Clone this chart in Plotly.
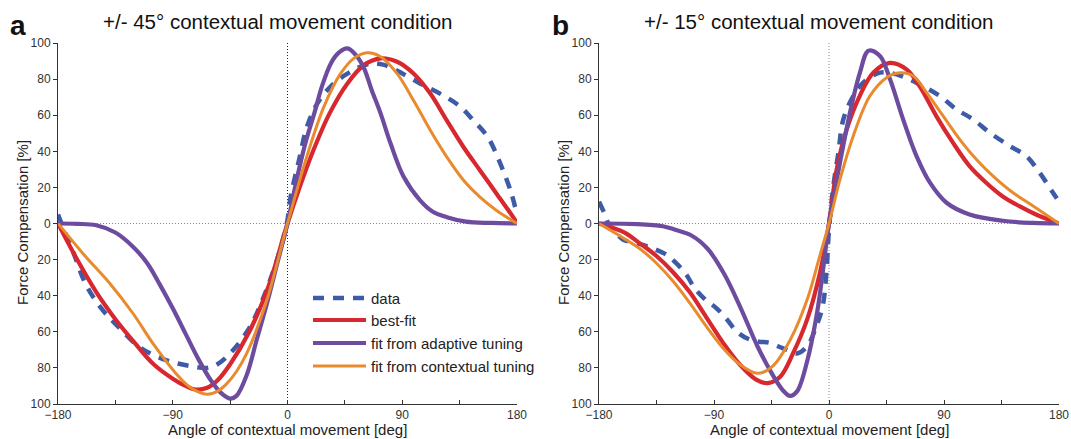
import plotly.graph_objects as go

# ---------------- values ----------------
# Left panel: +/- 45 deg contextual movement condition
L_data_x = [-180, -175, -168, -158, -146, -133, -115, -94, -76, -63, -55, -45, -30, -20, -10, -4, 0, 2.5, 9, 15,
            23, 34, 47, 64, 75, 85, 104, 122, 135, 146, 157, 167, 175, 180]
L_data_y = [5, -4, -16, -34, -47, -57, -69, -76, -79, -80, -78, -72, -58, -43, -24, -10, 2, 15, 35, 53,
            66, 76, 83, 88.5, 88, 85, 77.6, 71, 65, 57, 48, 33, 18, 5]

L_best_x = [-180, -165, -150, -135, -120, -105, -90, -80, -72, -63, -55, -45, -30, -15, 0, 10, 20, 33, 47, 60,
            73, 86, 99, 112, 125, 138, 151, 164, 177, 180]
L_best_y = [0, -20, -38, -53, -66, -78, -86, -90, -92, -91, -87, -78, -60, -35, 0, 21, 40, 61, 77.6, 87.8,
            91.5, 89.6, 83, 72, 57, 42.4, 29.4, 16.5, 3.5, 0]

L_adapt_x = [-180, -165, -150, -135, -121, -110, -100, -90, -80, -70, -60, -52, -45, -40, -32, -24, -16, -8, 0, 5,
             10, 15, 21, 27, 34, 40, 47, 54, 60, 66, 73, 81, 91, 104, 114, 125, 140, 160, 180]
L_adapt_y = [0, -0.2, -1, -5, -13, -22, -34, -47, -61, -75, -87, -94, -97, -95.5, -84, -64, -44, -22, 0, 17,
             33, 47, 61, 76, 88.7, 94.5, 97, 93, 86, 74, 61, 44, 26, 12.8, 6.5, 3.5, 1, 0.3, 0]

L_ctx_x = [-180, -160, -139, -121, -105, -87, -76, -63, -55, -48, -40, -32, -16, 0, 15, 28.5, 41.6, 52, 62.5, 73,
           86, 99, 112, 125, 138, 151, 164, 180]
L_ctx_y = [0, -17, -33.5, -50, -67, -83.5, -91, -94.6, -93, -89, -82, -72, -42, 0, 36.8, 64.6, 83, 91.5, 94.6, 92.4,
           83, 68, 51.7, 36.8, 24, 14.6, 7.2, 0]

# Right panel: +/- 15 deg contextual movement condition
R_data_x = [-180, -176, -172, -167, -161, -153, -145, -137, -128, -121, -112, -105, -97, -88, -80, -72, -63, -55, -47, -40,
            -33, -25, -17, -10, -5, -2, 0, 3.4, 7.3, 11.2, 19, 26.8, 39.9, 52.9, 71, 86.8, 99.8, 112.8, 125.8, 141.5,
            154.5, 165, 175.3, 180]
R_data_y = [12, 6, -1, -5, -9, -10.5, -12, -14, -17, -21, -28, -36, -42, -47, -53, -60, -64, -65.5, -66, -68,
            -70, -72, -68, -57, -46, -27, -3, 20.7, 39, 57.7, 70.6, 78, 83.6, 82.6, 77, 70.6, 63.2, 57.7, 50.3, 42.9,
            37.3, 28, 17, 12]

R_best_x = [-180, -160, -148, -135, -122, -109, -96, -83, -70, -57, -48, -38, -28, -17, -7, 0, 6, 13.8, 24, 34.6,
            47.7, 60.7, 71, 84, 97, 110, 123, 136, 149, 162, 180]
R_best_y = [0, -5, -11, -18, -27, -38, -52, -66, -78, -86.5, -88.4, -84.7, -71.7, -53, -27, 0, 30, 52, 70.6, 83.5,
            89, 85.4, 76, 59.5, 44.8, 31.8, 22.6, 15, 9.6, 5, 0]

R_adapt_x = [-180, -150, -130, -121, -108, -95, -82, -69, -56, -44, -36, -30.5, -25, -17, -9, -4, 0, 8.6, 16.4, 24.2,
             31, 39.9, 47.7, 58, 68.5, 79, 92, 110, 136, 160, 180]
R_adapt_y = [0, -0.3, -1.5, -3.3, -6.5, -14, -28, -47, -68, -84, -92.5, -95.5, -93, -76, -48, -22, 0, 33.7, 61.4, 83.6,
             95.8, 92.8, 80, 57.7, 37.3, 22.6, 11.5, 5, 1.5, 0.3, 0]

R_ctx_x = [-180, -161, -148, -135, -122, -109, -96, -83, -70, -56, -44, -30, -17, -8, 0, 8.6, 19, 32, 45, 55.5,
           66, 76.4, 89.4, 102.4, 115.4, 128.4, 144, 160, 180]
R_ctx_y = [0, -8, -14, -22, -32, -44, -57, -69, -78, -83, -79, -64, -42, -20, 0, 24.4, 48.5, 70.6, 80.8, 83.5,
           81.7, 72.5, 59.5, 46.5, 35.4, 26.2, 17, 9.6, 0]

x_tickvals = [-180, -135, -90, -45, 0, 45, 90, 135, 180]
x_ticktext = ["\u2212180", "", "\u221290", "", "0", "", "90", "", "180"]
y_tickvals = [-100, -80, -60, -40, -20, 0, 20, 40, 60, 80, 100]
y_ticktext = ["100", "80", "60", "40", "20", "0", "20", "40", "60", "80", "100"]

series_names = ["data", "best-fit", "fit from adaptive tuning", "fit from contextual tuning"]
panel_titles = ["+/- 45\u00b0 contextual movement condition", "+/- 15\u00b0 contextual movement condition"]
panel_letters = ["a", "b"]
x_title = "Angle of contextual movement [deg]"
y_title = "Force Compensation [%]"

# ---------------- styling ----------------
W, H = 1071, 439
FONT = "Liberation Sans, Arial, Helvetica, sans-serif"
C_DATA, C_BEST, C_ADAPT, C_CTX = "#3E5BA8", "#D7282F", "#6D4C9F", "#E98A2D"
styles = [
    dict(color=C_DATA, width=4.5, dash="11px,9px"),
    dict(color=C_BEST, width=4.2),
    dict(color=C_ADAPT, width=4.2),
    dict(color=C_CTX, width=3.0),
]

def px_x(p):
    return p / W

def px_y(p):
    return 1 - p / H

# plot-area pixel boxes
L_box = (58, 517)
R_box = (599, 1059)
Y_box = (43, 404)

fig = go.Figure()

panels = [
    ("x", "y", [(L_data_x, L_data_y), (L_best_x, L_best_y), (L_adapt_x, L_adapt_y), (L_ctx_x, L_ctx_y)]),
    ("x2", "y2", [(R_data_x, R_data_y), (R_best_x, R_best_y), (R_adapt_x, R_adapt_y), (R_ctx_x, R_ctx_y)]),
]
for xa, ya, series in panels:
    for (xs, ys), name, st in zip(series, series_names, styles):
        fig.add_trace(go.Scatter(
            x=xs, y=ys, mode="lines", name=name, xaxis=xa, yaxis=ya,
            line=dict(shape="spline", smoothing=1.0, **st), showlegend=False, hoverinfo="skip",
        ))

axis_common_x = dict(
    range=[-180, 180], tickvals=x_tickvals, ticktext=x_ticktext, ticks="inside", ticklen=4,
    tickcolor="#333", tickwidth=1, showline=True, linecolor="#333", linewidth=1, automargin=False,
    ticklabeloverflow="allow",
    showgrid=False, zeroline=False, tickfont=dict(family=FONT, size=12, color="#333"), fixedrange=True,
)
axis_common_y = dict(
    range=[-100, 100], tickvals=y_tickvals, ticktext=y_ticktext, ticks="outside", ticklen=4,
    tickcolor="#333", tickwidth=1, showline=True, linecolor="#333", linewidth=1, automargin=False,
    ticklabeloverflow="allow",
    showgrid=False, zeroline=False, tickfont=dict(family=FONT, size=12, color="#333"), fixedrange=True,
)
ydom = [px_y(Y_box[1]), px_y(Y_box[0])]

fig.update_layout(
    width=W, height=H, margin=dict(l=0, r=0, t=0, b=0, autoexpand=False),
    paper_bgcolor="white", plot_bgcolor="white", showlegend=False, hovermode=False,
    font=dict(family=FONT, color="#222"),
    xaxis=dict(domain=[px_x(L_box[0]), px_x(L_box[1])], anchor="y", **axis_common_x),
    yaxis=dict(domain=ydom, anchor="x", **axis_common_y),
    xaxis2=dict(domain=[px_x(R_box[0]), px_x(R_box[1])], anchor="y2", **axis_common_x),
    yaxis2=dict(domain=ydom, anchor="x2", **axis_common_y),
)

shapes = []
for xr, yr, vcol in [("x", "y", "#222"), ("x2", "y2", "#888")]:
    shapes.append(dict(type="line", xref=xr, yref=yr, x0=-180, x1=180, y0=0, y1=0, layer="below",
                       line=dict(color="#888", width=1, dash="1px,2px")))
    shapes.append(dict(type="line", xref=xr, yref=yr, x0=0, x1=0, y0=-100, y1=100, layer="below",
                       line=dict(color=vcol, width=1, dash="1px,2px")))

annotations = []
# titles, panel letters, axis titles
for (x0, x1), title, letter, lx in [(L_box, panel_titles[0], panel_letters[0], 18),
                                     (R_box, panel_titles[1], panel_letters[1], 560)]:
    cx = (x0 + x1) / 2
    annotations.append(dict(text=title, xref="paper", yref="paper", x=px_x(cx - 10), y=px_y(22),
                            xanchor="center", yanchor="middle", showarrow=False,
                            font=dict(family=FONT, size=20.5, color="#111")))
    annotations.append(dict(text="<b>%s</b>" % letter, xref="paper", yref="paper", x=px_x(lx), y=px_y(25),
                            xanchor="center", yanchor="middle", showarrow=False,
                            font=dict(family=FONT, size=28, color="#111")))
    annotations.append(dict(text=x_title, xref="paper", yref="paper", x=px_x(cx), y=px_y(429),
                            xanchor="center", yanchor="middle", showarrow=False,
                            font=dict(family=FONT, size=15, color="#222")))
    annotations.append(dict(text=y_title, xref="paper", yref="paper", x=px_x(x0 - 36), y=px_y(223),
                            xanchor="center", yanchor="middle", showarrow=False, textangle=-90,
                            font=dict(family=FONT, size=15, color="#222")))

# manual legend in left panel
rows = [298, 320, 343, 366]
for name, st, ry in zip(series_names, styles, rows):
    shapes.append(dict(type="line", xref="paper", yref="paper", x0=px_x(313), x1=px_x(366),
                       y0=px_y(ry), y1=px_y(ry), line=dict(color=st["color"], width=st["width"],
                                                            dash=st.get("dash", "solid"))))
    annotations.append(dict(text=name, xref="paper", yref="paper", x=px_x(369), y=px_y(ry),
                            xanchor="left", yanchor="middle", showarrow=False,
                            font=dict(family=FONT, size=15, color="#222")))

fig.update_layout(shapes=shapes, annotations=annotations)
# the page's default 8px body margin would push the 1071x439 figure out of the window
fig.write_html(
    "out.html",
    config={"displayModeBar": False, "staticPlot": True},
    post_script=("document.documentElement.style.overflow='hidden';"
                 "document.body.style.margin='0';document.body.style.overflow='hidden';"),
)
